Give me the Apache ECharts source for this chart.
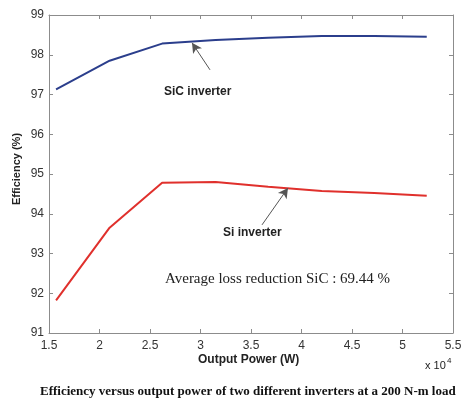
<!DOCTYPE html>
<html>
<head>
<meta charset="utf-8">
<script src="https://cdn.jsdelivr.net/npm/echarts@6/dist/echarts.min.js"></script>
<style>
html,body{margin:0;padding:0;background:#fff;}
#main{width:474px;height:398px;}
</style>
</head>
<body>
<div id="main"></div>
<script>
// output power (W)
var power=[15700,21000,26200,31500,36700,42000,47200,52400];
var sicEff=[97.13,97.85,98.28,98.37,98.43,98.47,98.47,98.45];
var siEff=[91.82,93.65,94.78,94.8,94.68,94.57,94.52,94.45];

function pairs(xs,ys){
	var out=[];
	for(var i=0;i<xs.length;i++){
		out.push([xs[i],ys[i]]);
	}
	return out;
}

var myChart=echarts.init(document.getElementById('main'));
var tickCol='#8c8c8c';
var labelStyle={color:'#333',fontFamily:'Liberation Sans, Arial',fontSize:12};

option={
	backgroundColor:'#fff',
	animation:false,
	grid:{left:49,right:21,top:15,bottom:65},
	xAxis:[{
		type:'value',min:15000,max:55000,interval:5000,
		axisLine:{show:true,lineStyle:{color:tickCol,width:1}},
		axisTick:{inside:true,length:4,lineStyle:{color:tickCol}},
		splitLine:{show:false},
		axisLabel:Object.assign({margin:7,formatter:function(v){return v/10000;}},labelStyle)
	},{
		type:'value',position:'top',min:15000,max:55000,interval:5000,
		axisLine:{show:true,lineStyle:{color:tickCol,width:1}},
		axisTick:{inside:true,length:4,lineStyle:{color:tickCol}},
		axisLabel:{show:false},splitLine:{show:false}
	}],
	yAxis:[{
		type:'value',min:91,max:99,interval:1,
		axisLine:{show:true,lineStyle:{color:tickCol,width:1}},
		axisTick:{show:true,inside:true,length:4,lineStyle:{color:tickCol}},
		splitLine:{show:false},
		axisLabel:Object.assign({margin:5},labelStyle)
	},{
		type:'value',position:'right',min:91,max:99,interval:1,
		axisLine:{show:true,lineStyle:{color:tickCol,width:1}},
		axisTick:{show:true,inside:true,length:4,lineStyle:{color:tickCol}},
		axisLabel:{show:false},splitLine:{show:false}
	}],
	series:[{
		name:'SiC inverter',type:'line',data:pairs(power,sicEff),
		showSymbol:false,lineStyle:{color:'#2b3e8c',width:2},
		markLine:{
			silent:true,symbol:['none','arrow'],symbolSize:[8,10],
			label:{show:false},
			lineStyle:{color:'#555',width:1,type:'solid'},
			data:[[{coord:[30941,97.62]},{coord:[29158,98.30]}]]
		}
	},{
		name:'Si inverter',type:'line',data:pairs(power,siEff),
		showSymbol:false,lineStyle:{color:'#e0302c',width:2},
		markLine:{
			silent:true,symbol:['none','arrow'],symbolSize:[8,10],
			label:{show:false},
			lineStyle:{color:'#555',width:1,type:'solid'},
			data:[[{coord:[36089,93.72]},{coord:[38663,94.65]}]]
		}
	}],
	graphic:[
		{type:'text',left:164,top:86,style:{text:'SiC inverter',fill:'#222',font:'bold 12px "Liberation Sans", Arial'}},
		{type:'text',left:223,top:227,style:{text:'Si inverter',fill:'#222',font:'bold 12px "Liberation Sans", Arial'}},
		{type:'text',left:165,top:272,style:{text:'Average loss reduction SiC : 69.44 %',fill:'#222',font:'15px "Liberation Serif", "Times New Roman"'}},
		{type:'text',left:198,top:354,style:{text:'Output Power (W)',fill:'#222',font:'bold 12px "Liberation Sans", Arial'}},
		{type:'text',x:17,y:169,rotation:Math.PI/2,style:{text:'Efficiency (%)',fill:'#222',font:'bold 11px "Liberation Sans", Arial',align:'center',verticalAlign:'middle'}},
		{type:'text',left:425,top:360,style:{text:'x 10',fill:'#222',font:'11px "Liberation Sans", Arial'}},
		{type:'text',left:447,top:357,style:{text:'4',fill:'#222',font:'8px "Liberation Sans", Arial'}},
		{type:'text',left:40,top:385,style:{text:'Efficiency versus output power of two different inverters at a 200 N-m load',fill:'#111',font:'bold 13px "Liberation Serif", "Times New Roman"'}}
	]
};

myChart.setOption(option);
</script>
</body>
</html>
